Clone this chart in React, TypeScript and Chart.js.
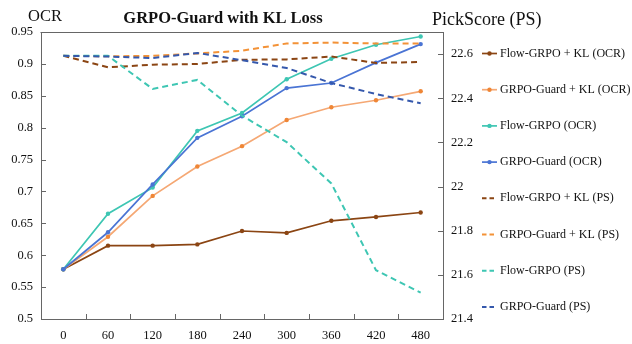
import React, { useEffect, useRef } from 'react';
import { Chart, registerables } from 'chart.js';

Chart.register(...registerables);

// ---- data ----
const steps = ['0', '60', '120', '180', '240', '300', '360', '420', '480'];

const flowKlOcr = [0.578, 0.615, 0.615, 0.617, 0.638, 0.635, 0.654, 0.66, 0.667];
const guardKlOcr = [0.578, 0.629, 0.693, 0.739, 0.771, 0.812, 0.832, 0.843, 0.857];
const flowOcr = [0.578, 0.665, 0.706, 0.795, 0.823, 0.876, 0.908, 0.93, 0.943];
const guardOcr = [0.578, 0.636, 0.711, 0.784, 0.818, 0.862, 0.87, 0.902, 0.931];

const flowKlPs = [22.592, 22.54, 22.552, 22.555, 22.574, 22.576, 22.589, 22.56, 22.564];
const guardKlPs = [22.592, 22.59, 22.592, 22.603, 22.615, 22.648, 22.652, 22.648, 22.648];
const flowPs = [22.592, 22.592, 22.442, 22.483, 22.321, 22.201, 22.014, 21.621, 21.519];
const guardPs = [22.592, 22.589, 22.582, 22.605, 22.572, 22.537, 22.469, 22.419, 22.377];

const ocrTicks = [0.5, 0.55, 0.6, 0.65, 0.7, 0.75, 0.8, 0.85, 0.9, 0.95];
const psTicks = [21.4, 21.6, 21.8, 22, 22.2, 22.4, 22.6];

const seriesLabels = [
  'Flow-GRPO + KL (OCR)',
  'GRPO-Guard + KL (OCR)',
  'Flow-GRPO (OCR)',
  'GRPO-Guard (OCR)',
  'Flow-GRPO + KL (PS)',
  'GRPO-Guard + KL (PS)',
  'Flow-GRPO (PS)',
  'GRPO-Guard (PS)',
];

const titleText = 'GRPO-Guard with KL Loss';
const leftAxisTitle = 'OCR';
const rightAxisTitle = 'PickScore (PS)';

// ---- styles ----
const FONT = "'Liberation Serif', 'Times New Roman', serif";
const AXIS = '#666666';
const TEXT = '#111111';

const styles = [
  { line: '#8B4513', point: '#8B4513', dashed: false, axis: 'y' },
  { line: '#F5A874', point: '#EF8636', dashed: false, axis: 'y' },
  { line: '#3EC6B3', point: '#3EC6B3', dashed: false, axis: 'y' },
  { line: '#4A74D4', point: '#4A74D4', dashed: false, axis: 'y' },
  { line: '#8B4513', point: '#8B4513', dashed: true, axis: 'y2' },
  { line: '#F39237', point: '#F39237', dashed: true, axis: 'y2' },
  { line: '#3EC6B3', point: '#3EC6B3', dashed: true, axis: 'y2' },
  { line: '#3558AC', point: '#3558AC', dashed: true, axis: 'y2' },
];

const seriesData = [flowKlOcr, guardKlOcr, flowOcr, guardOcr, flowKlPs, guardKlPs, flowPs, guardPs];

export default function App() {
  const ref = useRef<HTMLCanvasElement>(null);

  useEffect(() => {
    const canvas = ref.current;
    if (!canvas) return;

    const datasets = seriesLabels.map((label, i) => {
      const s = styles[i];
      return {
        label,
        data: seriesData[i],
        yAxisID: s.axis,
        borderColor: s.line,
        backgroundColor: s.point,
        borderWidth: s.dashed ? 2 : 1.7,
        borderDash: s.dashed ? [6, 4] : [],
        pointRadius: s.dashed ? 0 : 2.2,
        pointHoverRadius: 0,
        pointBackgroundColor: s.point,
        pointBorderWidth: 0,
        tension: 0,
        fill: false,
        order: seriesLabels.length - i,
      };
    });

    const decor = {
      id: 'decor',
      afterDraw(chart: any) {
        const ctx = chart.ctx as CanvasRenderingContext2D;
        const { left, right, top, bottom } = chart.chartArea;
        const xs = chart.scales.x;
        const y = chart.scales.y;
        const y2 = chart.scales.y2;
        ctx.save();
        // top border
        ctx.strokeStyle = AXIS;
        ctx.lineWidth = 1;
        ctx.setLineDash([]);
        ctx.beginPath();
        ctx.moveTo(Math.round(left) - 0.5, Math.round(top) + 0.5);
        ctx.lineTo(Math.round(right) + 0.5, Math.round(top) + 0.5);
        ctx.stroke();
        // inside tick marks
        const tl = 5;
        ctx.beginPath();
        for (let i = 1; i < steps.length; i++) {
          const px = Math.round((xs.getPixelForValue(i - 1) + xs.getPixelForValue(i)) / 2) + 0.5;
          ctx.moveTo(px, bottom);
          ctx.lineTo(px, bottom - tl);
        }
        for (const v of ocrTicks) {
          const py = Math.round(y.getPixelForValue(v)) + 0.5;
          ctx.moveTo(left, py);
          ctx.lineTo(left + tl, py);
        }
        for (const v of psTicks) {
          const py = Math.round(y2.getPixelForValue(v)) + 0.5;
          ctx.moveTo(right, py);
          ctx.lineTo(right - tl, py);
        }
        ctx.stroke();

        // titles
        ctx.fillStyle = TEXT;
        ctx.textBaseline = 'alphabetic';
        ctx.textAlign = 'center';
        ctx.font = `bold 16.5px ${FONT}`;
        ctx.fillText(titleText, 223, 23);
        ctx.textAlign = 'left';
        ctx.font = `16.5px ${FONT}`;
        ctx.fillText(leftAxisTitle, 28, 20.5);
        ctx.font = `18px ${FONT}`;
        ctx.fillText(rightAxisTitle, 432, 25);

        // legend
        const lx0 = 482;
        const lx1 = 497;
        const ly0 = 53.5;
        const dy = 36.2;
        ctx.font = `12px ${FONT}`;
        ctx.textBaseline = 'middle';
        seriesLabels.forEach((label, i) => {
          const s = styles[i];
          const ly = ly0 + dy * i;
          ctx.strokeStyle = s.line;
          ctx.lineWidth = s.dashed ? 2 : 1.7;
          ctx.setLineDash(s.dashed ? [4.5, 3] : []);
          ctx.beginPath();
          ctx.moveTo(lx0, ly);
          ctx.lineTo(lx1, ly);
          ctx.stroke();
          ctx.setLineDash([]);
          if (!s.dashed) {
            ctx.fillStyle = s.point;
            ctx.beginPath();
            ctx.arc((lx0 + lx1) / 2, ly, 2.2, 0, Math.PI * 2);
            ctx.fill();
          }
          ctx.fillStyle = TEXT;
          ctx.fillText(label, 500, ly);
        });
        ctx.restore();
      },
    };

    const tickFont = { family: FONT, size: 12.5 };

    const chart = new Chart(canvas, {
      type: 'line',
      data: { labels: steps, datasets: datasets as any },
      options: {
        responsive: false,
        animation: false,
        devicePixelRatio: 1,
        layout: { padding: { top: 32, left: 0, right: 0, bottom: 0 } },
        plugins: {
          legend: { display: false },
          tooltip: { enabled: false },
          title: { display: false },
        },
        scales: {
          x: {
            type: 'category',
            offset: true,
            grid: { display: false, drawTicks: false },
            border: { display: true, color: AXIS, width: 1 },
            ticks: {
              font: tickFont,
              color: TEXT,
              padding: 9,
              maxRotation: 0,
              autoSkip: false,
            },
            afterFit(s: any) {
              s.height = 25;
            },
          },
          y: {
            type: 'linear',
            position: 'left',
            min: 0.5,
            max: 0.95,
            grid: { display: false, drawTicks: false },
            border: { display: true, color: AXIS, width: 1 },
            afterBuildTicks(s: any) {
              s.ticks = ocrTicks.map((v) => ({ value: v }));
            },
            ticks: {
              font: tickFont,
              color: TEXT,
              padding: 8,
              callback: (v: any) => String(Number(Number(v).toFixed(2))),
            },
            afterFit(s: any) {
              s.width = 41;
            },
          },
          y2: {
            type: 'linear',
            position: 'right',
            min: 21.4,
            max: 22.7,
            grid: { display: false, drawTicks: false },
            border: { display: true, color: AXIS, width: 1 },
            afterBuildTicks(s: any) {
              s.ticks = psTicks.map((v) => ({ value: v }));
            },
            ticks: {
              font: tickFont,
              color: TEXT,
              padding: 8,
              callback: (v: any) => String(Number(Number(v).toFixed(1))),
            },
            afterFit(s: any) {
              s.width = 189;
            },
          },
        },
      } as any,
      plugins: [decor],
    });

    return () => chart.destroy();
  }, []);

  return (
    <div style={{ position: 'fixed', left: 0, top: 0, width: 632, height: 344, background: '#ffffff' }}>
      <canvas ref={ref} width={632} height={344} style={{ display: 'block', width: 632, height: 344 }} />
    </div>
  );
}
